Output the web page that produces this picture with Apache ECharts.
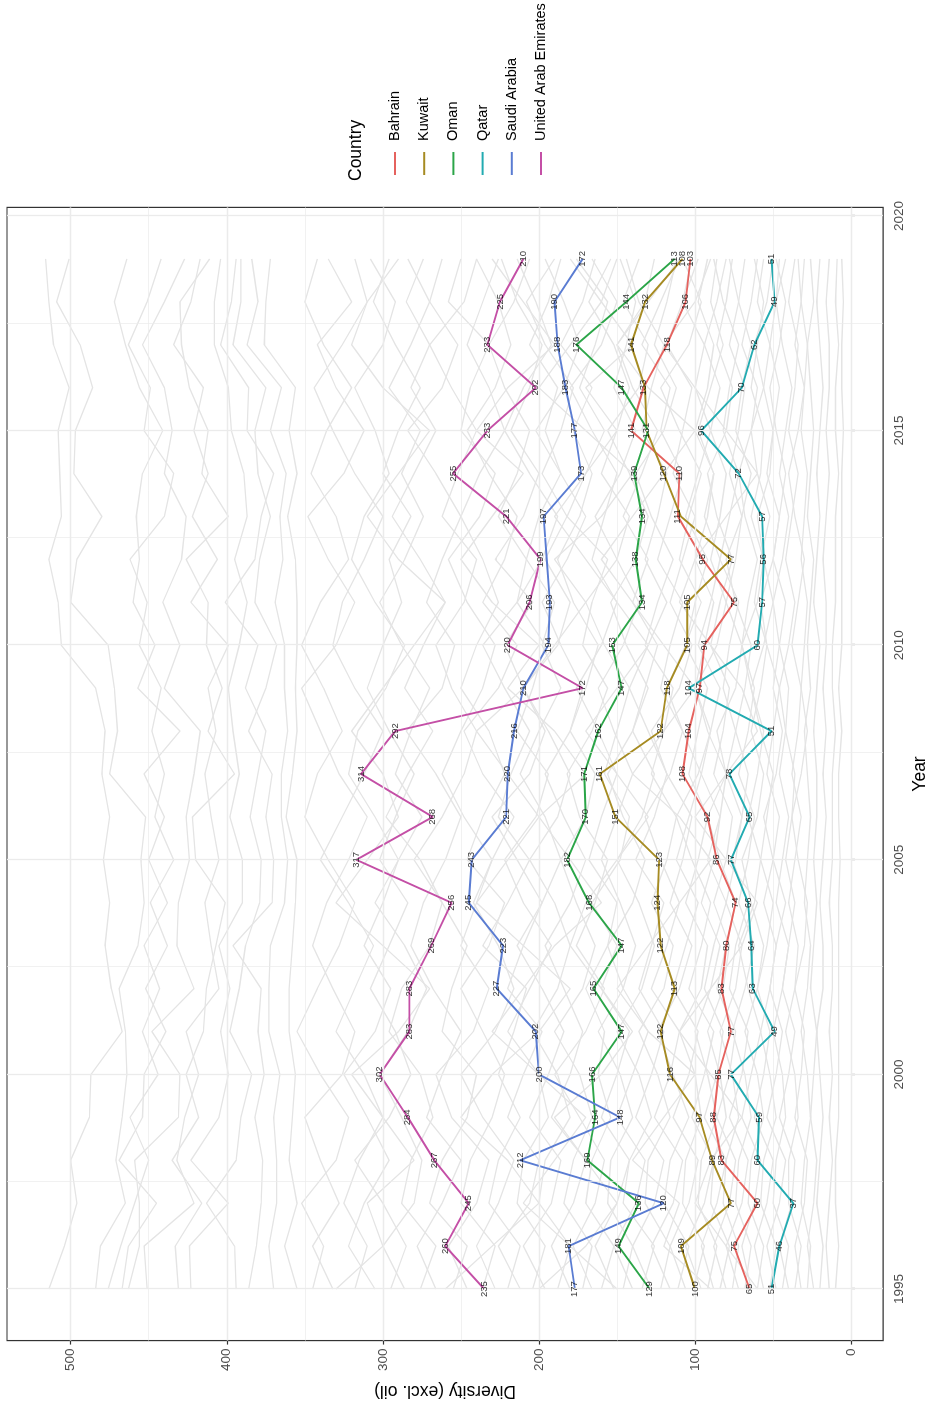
<!DOCTYPE html>
<html>
<head>
<meta charset="utf-8">
<script src="https://cdn.jsdelivr.net/npm/echarts@6/dist/echarts.min.js"></script>
<style>
  html, body { margin: 0; padding: 0; width: 934px; height: 1408px; overflow: hidden; background: #ffffff; }
  /* The chart is laid out landscape and turned a quarter turn counter-clockwise onto the portrait page. */
  #chart { position: absolute; left: 0; top: 0; width: 1408px; height: 934px;
           transform-origin: 0 0; transform: translate(0, 1408px) rotate(-90deg); }
</style>
</head>
<body>
<div id="chart"></div>
<script>
// ---- data -------------------------------------------------------------
const years = [1995, 1996, 1997, 1998, 1999, 2000, 2001, 2002, 2003, 2004, 2005, 2006,
               2007, 2008, 2009, 2010, 2011, 2012, 2013, 2014, 2015, 2016, 2017, 2018, 2019];

const countryNames = ['Bahrain', 'Kuwait', 'Oman', 'Qatar', 'Saudi Arabia', 'United Arab Emirates'];

const bahrain = [65, 75, 60, 83, 88, 85, 77, 83, 80, 74, 86, 92, 108, 104, 97, 94, 75, 95, 111, 110, 141, 133, 118, 106, 103];
const kuwait  = [100, 109, 77, 89, 97, 116, 122, 113, 122, 124, 123, 151, 161, 122, 118, 105, 105, 77, 109, 120, 131, 132, 141, 132, 108];
const oman    = [129, 149, 136, 169, 164, 166, 147, 165, 147, 168, 182, 170, 171, 162, 147, 153, 134, 138, 134, 139, 130, 147, 176, 144, 113];
const qatar   = [51, 46, 37, 60, 59, 77, 49, 63, 64, 66, 77, 65, 78, 51, 104, 60, 57, 56, 57, 72, 96, 70, 62, 49, 51];
const saudiArabia = [177, 181, 120, 212, 148, 200, 202, 227, 223, 245, 243, 221, 220, 216, 210, 194, 193, 195, 197, 173, 177, 183, 188, 190, 172];
const uae     = [235, 260, 245, 267, 284, 302, 283, 283, 269, 256, 317, 268, 314, 292, 172, 220, 206, 199, 221, 255, 233, 202, 233, 225, 210];

// value labels that are skipped because they would overprint an earlier label
const skippedLabels = { 'Kuwait': [2013, 2016], 'Oman': [2015], 'Saudi Arabia': [2012] };

// every other country in the data set, drawn in the background
const otherCountries = [
  [514,504,496,500,488,487,467,474,478,475,479,475,480,478,484,506,508,514,506,507,508,501,511,514,516],
  [484,481,465,471,467,464,465,469,457,453,455,452,475,470,472,476,500,496,480,498,497,486,494,509,501],
  [476,468,459,450,462,444,454,443,453,438,450,440,453,430,457,446,460,456,458,454,441,456,465,472,464],
  [467,463,445,469,454,453,439,452,438,449,434,446,440,448,442,456,451,462,440,434,453,449,463,451,442],
  [463,456,456,459,431,430,448,421,432,431,424,426,421,417,440,430,441,429,426,440,435,440,454,440,427],
  [451,453,421,432,427,418,426,405,410,414,405,410,414,407,412,399,423,406,422,412,421,415,434,423,417],
  [431,433,416,435,418,426,415,413,407,401,420,422,395,412,403,413,412,426,399,416,412,424,429,430,411],
  [423,424,399,423,405,399,404,398,405,390,390,398,392,396,399,392,387,395,387,389,397,399,408,408,404],
  [394,395,413,394,391,384,398,392,388,379,378,385,380,375,388,380,401,382,378,370,387,386,404,397,394],
  [386,381,378,377,382,376,380,378,396,371,370,375,371,386,375,368,382,379,372,380,382,375,396,391,391],
  [370,373,368,368,370,366,373,373,372,363,361,365,365,361,363,363,369,364,366,362,372,365,387,380,384],
  [355,363,355,360,358,356,360,360,358,356,355,362,358,355,356,355,355,356,361,355,360,356,376,375,372],
  [345,338,352,330,322,340,355,342,328,318,335,350,342,326,338,352,340,322,330,346,336,320,338,350,342],
  [332,345,328,340,350,326,318,332,345,336,322,310,328,340,352,330,318,335,348,325,312,330,342,320,335],
  [318,310,325,315,300,312,330,318,306,322,340,326,312,300,318,332,326,312,300,318,332,344,326,310,318],
  [305,322,312,296,310,325,305,295,312,300,290,305,322,316,298,286,305,320,312,296,305,318,300,292,308],
  [295,285,300,318,296,282,292,308,296,284,302,292,280,296,310,300,288,296,282,300,290,276,292,306,296],
  [286,300,280,275,288,302,284,272,286,305,290,275,292,282,270,288,302,286,274,288,276,296,282,270,284],
  [276,266,288,282,268,276,296,288,270,262,276,298,284,268,286,274,260,276,294,280,266,282,270,285,274],
  [266,278,262,250,272,262,250,268,282,274,260,250,266,285,262,254,272,262,250,266,284,262,252,270,262],
  [255,246,270,262,246,240,262,256,246,262,280,262,248,240,256,266,248,240,262,252,240,256,270,248,240],
  [246,258,240,232,256,266,242,232,250,240,230,248,262,250,236,228,246,258,238,228,250,244,232,258,250],
  [236,228,250,244,230,222,236,250,232,222,246,236,222,232,250,240,226,236,250,238,222,232,246,236,226],
  [228,240,226,216,236,250,228,216,226,242,230,216,236,248,226,214,236,222,214,232,246,228,218,226,240],
  [220,212,232,226,212,226,216,208,236,220,206,226,218,206,222,236,214,208,226,214,206,222,232,216,206],
  [212,226,206,200,220,210,198,220,210,198,214,230,206,196,210,222,204,228,210,200,218,206,198,214,224],
  [204,196,214,210,194,200,220,206,192,210,222,202,194,214,204,196,214,198,188,206,222,210,192,202,214],
  [196,210,192,186,206,194,184,198,214,198,186,196,212,200,186,198,190,208,200,186,196,188,206,194,186],
  [188,180,200,196,180,188,204,188,180,190,206,188,180,194,210,188,180,196,182,198,186,178,196,208,190],
  [180,192,178,170,192,180,172,184,196,180,170,184,196,180,172,186,198,182,170,186,202,184,174,184,196],
  [172,166,184,178,166,174,190,172,164,176,186,170,164,180,170,162,178,188,174,166,178,166,186,172,164],
  [166,178,164,158,174,190,170,158,176,164,156,174,182,166,156,172,166,156,182,170,158,174,164,156,176],
  [160,152,170,166,154,162,158,170,156,150,168,160,150,162,176,160,150,166,158,150,166,180,160,150,166],
  [152,164,150,142,160,150,142,160,150,166,148,142,158,150,142,158,170,150,142,160,150,142,152,168,154],
  [146,140,156,154,140,148,162,146,138,148,160,150,140,152,162,146,136,150,164,148,138,152,144,138,148],
  [140,152,138,132,150,140,130,146,156,140,132,146,156,140,130,144,154,138,130,142,156,136,130,146,136],
  [134,126,146,142,128,136,150,134,126,136,150,134,126,140,132,124,140,130,146,134,124,140,150,132,126],
  [128,140,126,120,138,128,120,136,128,120,138,126,118,130,142,130,118,132,124,118,134,128,120,136,144],
  [122,116,132,130,116,124,136,120,114,128,118,112,128,120,114,132,124,114,128,138,120,112,126,118,112],
  [116,128,114,108,126,116,110,128,118,110,122,132,116,108,122,116,108,124,116,108,122,116,134,122,110],
  [111,104,120,116,104,114,124,110,102,116,108,102,118,128,110,102,116,108,100,114,108,102,118,108,102],
  [106,116,104,98,114,104,98,114,106,98,112,104,96,108,118,106,96,110,104,96,110,122,104,96,108],
  [101,94,108,106,96,100,110,96,92,106,98,92,104,98,92,106,100,92,106,98,90,100,94,108,98],
  [96,106,94,88,102,94,88,104,96,90,102,112,98,90,100,94,88,100,92,88,100,92,88,98,92],
  [92,86,98,96,86,92,100,90,84,96,88,84,96,90,84,98,90,84,94,88,98,90,82,90,86],
  [88,96,86,80,94,86,82,94,88,80,92,84,80,92,100,86,80,90,84,80,90,84,94,86,80],
  [84,78,90,88,80,84,92,82,78,88,80,76,88,82,78,90,84,76,86,92,80,76,86,80,76],
  [80,88,78,74,86,78,74,86,80,74,84,92,80,74,82,78,72,84,78,72,82,78,72,82,88],
  [76,72,82,80,72,76,84,74,70,80,74,70,80,86,74,70,80,74,70,78,72,68,78,72,68],
  [72,80,70,66,78,70,66,78,74,66,76,70,66,74,68,64,74,80,70,64,74,70,64,72,78],
  [68,64,74,72,64,68,76,68,62,72,66,62,72,66,62,70,66,60,68,72,64,60,70,64,60],
  [64,70,62,58,70,64,58,66,72,62,58,66,60,56,64,70,60,56,64,58,56,64,60,56,62],
  [60,56,66,64,56,60,68,60,56,64,70,60,56,64,58,54,62,58,52,60,64,56,52,60,56],
  [56,62,54,50,62,56,52,60,54,50,58,54,50,58,64,56,50,56,60,52,50,56,62,54,50],
  [52,48,58,56,48,52,58,52,48,56,50,46,54,50,46,54,58,50,46,54,50,46,52,48,46],
  [48,54,46,42,54,48,44,52,48,42,50,56,48,44,50,46,42,50,46,42,48,52,46,42,48],
  [44,40,50,48,42,44,50,44,40,48,44,40,46,42,40,46,50,44,40,46,42,38,44,48,42],
  [40,46,38,36,46,40,36,44,40,36,42,38,36,42,46,40,36,42,38,34,40,36,34,40,36],
  [36,32,40,40,34,36,42,36,34,40,36,32,38,34,32,38,34,30,36,40,34,30,36,32,30],
  [32,36,30,28,36,32,30,36,30,28,34,38,32,28,32,30,28,32,30,28,32,30,28,32,34],
  [28,26,32,30,26,28,32,28,26,30,28,26,28,30,26,28,26,24,28,26,24,26,28,24,26],
  [24,28,24,22,26,24,22,26,24,22,24,22,22,24,22,20,24,22,20,22,20,18,20,22,20],
  [20,18,22,20,18,20,22,18,18,20,18,16,18,16,18,16,16,18,16,14,16,14,14,16,14],
  [14,16,14,12,14,12,14,12,12,14,12,12,12,10,12,12,10,10,10,8,10,10,8,10,9],
  [10,8,10,10,8,8,8,8,8,8,7,8,8,6,8,6,6,6,6,6,5,6,6,5,6],
  [150,180,210,190,170,200,230,210,190,160,180,200,220,240,210,190,170,190,160,140,170,200,180,160,150],
  [260,230,200,220,250,230,200,180,210,240,220,200,170,190,220,200,230,250,230,210,240,220,190,210,230],
  [90,120,110,140,120,100,130,150,130,110,90,110,140,120,100,120,140,160,140,120,100,130,150,130,110],
  [330,300,310,280,300,320,290,270,300,330,310,290,300,320,300,280,260,290,310,290,270,300,320,310,290],
  [60,80,100,90,70,90,110,90,70,60,80,100,80,60,70,90,110,100,80,60,80,100,120,100,90],
  [200,170,150,170,190,160,140,160,180,170,150,130,150,170,150,130,150,170,190,170,150,170,140,160,180]
];

// axis breaks
const yearTicks = [1995, 2000, 2005, 2010, 2015, 2020];
const yearMinorTicks = [1997.5, 2002.5, 2007.5, 2012.5, 2017.5];
const diversityTicks = [0, 100, 200, 300, 400, 500];
const diversityMinorTicks = [50, 150, 250, 350, 450];

// ---- styling ----------------------------------------------------------
const countryColors = ['#E5625E', '#A68B22', '#2BA548', '#22ABB1', '#5A7CD2', '#C44FA6'];
const FONT = '"Liberation Sans", Arial, Helvetica, sans-serif';
const toPoints = vals => years.map((y, i) => [y, vals[i]]);
const countrySeriesValues = [bahrain, kuwait, oman, qatar, saudiArabia, uae];

const series = [];

// panel grid lines (major and minor), behind everything
series.push({
  type: 'line', data: [], silent: true, z: 1, animation: false,
  markLine: {
    silent: true, symbol: ['none', 'none'], animation: false, label: { show: false },
    emphasis: { disabled: true },
    data: [].concat(
      yearTicks.map(v => ({ xAxis: v, lineStyle: { color: '#EBEBEB', width: 1.3, type: 'solid' } })),
      yearMinorTicks.map(v => ({ xAxis: v, lineStyle: { color: '#EBEBEB', width: 0.7, type: 'solid' } })),
      diversityTicks.map(v => ({ yAxis: v, lineStyle: { color: '#EBEBEB', width: 1.3, type: 'solid' } })),
      diversityMinorTicks.map(v => ({ yAxis: v, lineStyle: { color: '#EBEBEB', width: 0.7, type: 'solid' } }))
    )
  }
});

otherCountries.forEach((vals, k) => {
  series.push({
    name: 'other-' + k, type: 'line', data: toPoints(vals),
    symbol: 'none', silent: true, z: 2, animation: false,
    lineStyle: { color: '#E4E4E4', width: 1.3 },
    emphasis: { disabled: true }
  });
});

// highlighted countries
countryNames.forEach((name, k) => {
  series.push({
    name, type: 'line', data: toPoints(countrySeriesValues[k]),
    color: countryColors[k],
    symbol: 'none', z: 3, animation: false, silent: true,
    lineStyle: { color: countryColors[k], width: 1.9 },
    itemStyle: { color: countryColors[k] },
    emphasis: { disabled: true }
  });
});

// value labels on top of all lines
countryNames.forEach((name, k) => {
  const skip = skippedLabels[name] || [];
  series.push({
    type: 'scatter', z: 10, animation: false, silent: true,
    symbol: 'circle', symbolSize: 1,
    itemStyle: { color: 'rgba(0,0,0,0)' },
    emphasis: { disabled: true },
    data: toPoints(countrySeriesValues[k]).map(p => ({
      value: p, label: { show: skip.indexOf(p[0]) < 0 }
    })),
    label: {
      show: true, position: 'inside', fontSize: 9.5, color: '#000000', fontFamily: FONT,
      formatter: p => String(p.value[1])
    }
  });
});

const chart = echarts.init(document.getElementById('chart'), null, { renderer: 'canvas' });
chart.setOption({
  backgroundColor: '#ffffff',
  animation: false,
  textStyle: { fontFamily: FONT },
  grid: {
    left: 67, top: 7, width: 1133.6, height: 883,
    show: true, borderColor: '#333333', borderWidth: 1.2, backgroundColor: 'rgba(0,0,0,0)'
  },
  xAxis: {
    type: 'value', min: 1993.8, max: 2020.2,
    splitLine: { show: false }, axisLine: { show: false },
    axisTick: { show: true, customValues: yearTicks, length: 4, inside: false, lineStyle: { color: '#333333', width: 1.2 } },
    axisLabel: { customValues: yearTicks, fontSize: 13.5, color: '#4D4D4D', margin: 9, fontFamily: FONT,
                 formatter: v => String(v) },
    name: 'Year', nameLocation: 'middle', nameGap: 25,
    nameTextStyle: { fontSize: 17.5, color: '#000000', fontFamily: FONT }
  },
  yAxis: {
    type: 'value', min: -20.5, max: 540.8,
    splitLine: { show: false }, axisLine: { show: false },
    axisTick: { show: true, customValues: diversityTicks, length: 4, inside: false, lineStyle: { color: '#333333', width: 1.2 } },
    axisLabel: { customValues: diversityTicks, fontSize: 13.5, color: '#4D4D4D', margin: 8, fontFamily: FONT,
                 formatter: v => String(v) },
    name: 'Diversity (excl. oil)', nameLocation: 'middle', nameGap: 38,
    nameTextStyle: { fontSize: 17.5, color: '#000000', fontFamily: FONT }
  },
  legend: {
    data: countryNames, orient: 'vertical', left: 1228, top: 381.5,
    icon: 'rect', itemWidth: 23, itemHeight: 2, itemGap: 12.2, selectedMode: false,
    textStyle: { fontSize: 14.5, lineHeight: 17, color: '#000000', fontFamily: FONT, padding: [0, 0, 0, 6] }
  },
  graphic: [{
    type: 'text', left: 1227, top: 347,
    style: { text: 'Country', fontSize: 17.5, fill: '#000000', fontFamily: FONT }
  }],
  series
});
</script>
</body>
</html>
